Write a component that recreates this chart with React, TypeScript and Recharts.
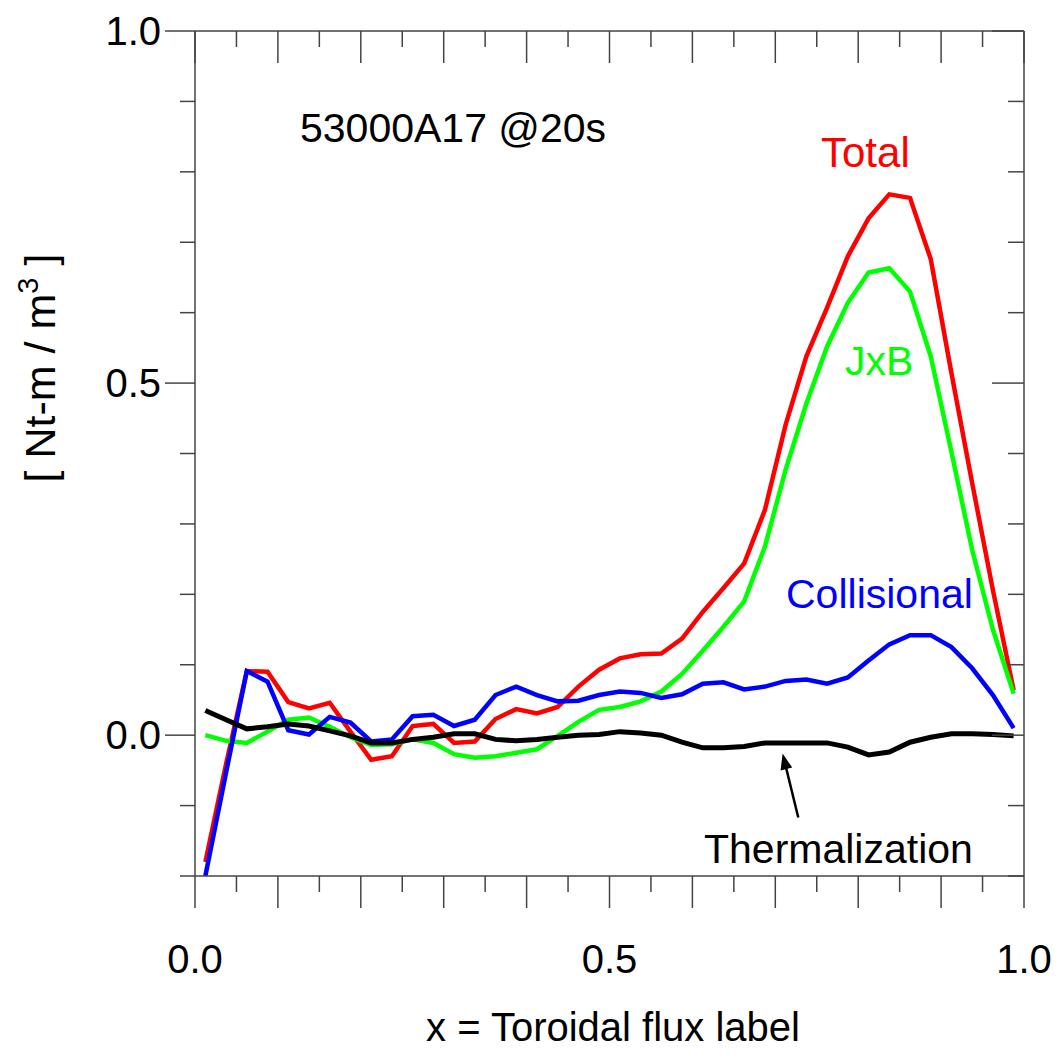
import { LineChart, Line, XAxis, YAxis, ReferenceLine } from 'recharts';

// radial grid positions (toroidal flux label)
const xPos = [
  0.0125, 0.0375, 0.0625, 0.0875, 0.1125, 0.1375, 0.1625, 0.1875, 0.2125, 0.2375,
  0.2625, 0.2875, 0.3125, 0.3375, 0.3625, 0.3875, 0.4125, 0.4375, 0.4625, 0.4875,
  0.5125, 0.5375, 0.5625, 0.5875, 0.6125, 0.6375, 0.6625, 0.6875, 0.7125, 0.7375,
  0.7625, 0.7875, 0.8125, 0.8375, 0.8625, 0.8875, 0.9125, 0.9375, 0.9625, 0.9875,
];

const total = [
  -0.18, -0.041, 0.091, 0.09, 0.047, 0.038, 0.046, 0.005, -0.035, -0.03,
  0.013, 0.016, -0.011, -0.009, 0.023, 0.037, 0.031, 0.04, 0.069, 0.093,
  0.109, 0.115, 0.116, 0.137, 0.175, 0.209, 0.244, 0.32, 0.441, 0.538,
  0.607, 0.68, 0.734, 0.768, 0.763, 0.676, 0.514, 0.358, 0.206, 0.064,
];

const jxb = [
  0.0, -0.008, -0.011, 0.005, 0.022, 0.025, 0.012, -0.003, -0.014, -0.013,
  -0.006, -0.011, -0.027, -0.032, -0.03, -0.025, -0.02, -0.001, 0.019, 0.036,
  0.04, 0.048, 0.062, 0.087, 0.12, 0.154, 0.19, 0.268, 0.377, 0.471,
  0.552, 0.614, 0.657, 0.663, 0.63, 0.538, 0.402, 0.263, 0.15, 0.059,
];

const collisional = [
  -0.2, -0.053, 0.091, 0.076, 0.007, 0.001, 0.026, 0.018, -0.009, -0.006,
  0.027, 0.029, 0.013, 0.022, 0.057, 0.069, 0.057, 0.048, 0.049, 0.057,
  0.062, 0.06, 0.053, 0.058, 0.073, 0.075, 0.065, 0.069, 0.077, 0.079,
  0.073, 0.082, 0.106, 0.129, 0.142, 0.142, 0.125, 0.095, 0.057, 0.01,
];

const thermalization = [
  0.035, 0.022, 0.009, 0.012, 0.016, 0.013, 0.006, -0.001, -0.011, -0.011,
  -0.006, -0.003, 0.002, 0.002, -0.006, -0.008, -0.006, -0.003, 0.0, 0.001,
  0.005, 0.003, 0.0, -0.01, -0.018, -0.018, -0.016, -0.011, -0.011, -0.011,
  -0.011, -0.017, -0.028, -0.024, -0.01, -0.003, 0.002, 0.002, 0.001, -0.001,
];

const xTicks = [
  0, 0.05, 0.1, 0.15, 0.2, 0.25, 0.3, 0.35, 0.4, 0.45, 0.5,
  0.55, 0.6, 0.65, 0.7, 0.75, 0.8, 0.85, 0.9, 0.95, 1,
];
const yTicks = [-0.2, -0.1, 0, 0.1, 0.2, 0.3, 0.4, 0.5, 0.6, 0.7, 0.8, 0.9, 1];
const labelledTicks = [0, 0.5, 1];

// arrow pointing at the thermalization curve (data coords)
const arrowTail = { x: 0.7277, y: -0.117 };
const arrowTip = { x: 0.7088, y: -0.026 };

const data = xPos.map((x, i) => ({
  x,
  total: total[i],
  jxb: jxb[i],
  collisional: collisional[i],
  thermalization: thermalization[i],
}));

const FONT = '"Liberation Sans", Arial, Helvetica, sans-serif';
const AXIS = '#444';
const LW = 4.5;

const isMajorX = (v: number) => Math.round(v * 20) % 2 === 0;
const isMajorY = (v: number) => labelledTicks.includes(v);

function BottomTick(props: any) {
  const { x, y, payload } = props;
  const v = payload.value;
  return (
    <g>
      <line x1={x} x2={x} y1={y} y2={y + (isMajorX(v) ? 32 : 16)} stroke={AXIS} strokeWidth={1.5} />
      {labelledTicks.includes(v) && (
        <text x={x} y={y + 97} textAnchor="middle" fontSize={40} fontFamily={FONT} fill="#000">
          {v.toFixed(1)}
        </text>
      )}
    </g>
  );
}

function TopTick(props: any) {
  const { x, y, payload } = props;
  return <line x1={x} x2={x} y1={y} y2={y + (isMajorX(payload.value) ? 32 : 16)} stroke={AXIS} strokeWidth={1.5} />;
}

function LeftTick(props: any) {
  const { x, y, payload } = props;
  const v = payload.value;
  const major = isMajorY(v);
  return (
    <g>
      <line x1={x - (major ? 30 : 15)} x2={x} y1={y} y2={y} stroke={AXIS} strokeWidth={1.5} />
      {major && (
        <text x={x - 34} y={y + 14} textAnchor="end" fontSize={40} fontFamily={FONT} fill="#000">
          {v.toFixed(1)}
        </text>
      )}
    </g>
  );
}

function RightTick(props: any) {
  const { x, y, payload } = props;
  return <line x1={x - (isMajorY(payload.value) ? 32 : 16)} x2={x} y1={y} y2={y} stroke={AXIS} strokeWidth={1.5} />;
}

function Arrow(props: any) {
  const { x1, y1, x2, y2 } = props;
  const len = Math.hypot(x2 - x1, y2 - y1) || 1;
  const dx = (x2 - x1) / len;
  const dy = (y2 - y1) / len;
  const hl = 16;
  const hw = 6;
  const bx = x2 - dx * hl;
  const by = y2 - dy * hl;
  return (
    <g>
      <line x1={x1} y1={y1} x2={bx + dx * 4} y2={by + dy * 4} stroke="#000" strokeWidth={2.5} />
      <polygon
        points={`${x2},${y2} ${bx - dy * hw},${by + dx * hw} ${bx + dy * hw},${by - dx * hw}`}
        fill="#000"
      />
    </g>
  );
}

export default function App() {
  return (
    <div style={{ position: 'absolute', left: 0, top: 0, width: 1063, height: 1053, background: '#fff' }}>
      <LineChart width={1063} height={1053} data={data} margin={{ top: 0, right: 0, bottom: 0, left: 0 }}>
        <XAxis
          xAxisId="bottom"
          dataKey="x"
          type="number"
          domain={[0, 1]}
          ticks={xTicks}
          interval={0}
          height={177}
          tickSize={0}
          tickMargin={0}
          tickLine={false}
          axisLine={{ stroke: AXIS, strokeWidth: 1.5 }}
          tick={BottomTick}
        />
        <XAxis
          xAxisId="top"
          orientation="top"
          dataKey="x"
          type="number"
          domain={[0, 1]}
          ticks={xTicks}
          interval={0}
          height={31}
          tickSize={0}
          tickMargin={0}
          tickLine={false}
          axisLine={{ stroke: AXIS, strokeWidth: 1.5 }}
          tick={TopTick}
        />
        <YAxis
          yAxisId="left"
          type="number"
          domain={[-0.2, 1]}
          ticks={yTicks}
          interval={0}
          width={195}
          tickSize={0}
          tickMargin={0}
          tickLine={false}
          allowDataOverflow
          axisLine={{ stroke: AXIS, strokeWidth: 1.5 }}
          tick={LeftTick}
        />
        <YAxis
          yAxisId="right"
          orientation="right"
          type="number"
          domain={[-0.2, 1]}
          ticks={yTicks}
          interval={0}
          width={39}
          tickSize={0}
          tickMargin={0}
          tickLine={false}
          allowDataOverflow
          axisLine={{ stroke: AXIS, strokeWidth: 1.5 }}
          tick={RightTick}
        />
        <Line xAxisId="bottom" yAxisId="left" type="linear" dataKey="total" stroke="#ff0000" strokeWidth={LW} dot={false} isAnimationActive={false} />
        <Line xAxisId="bottom" yAxisId="left" type="linear" dataKey="jxb" stroke="#00ff00" strokeWidth={LW} dot={false} isAnimationActive={false} />
        <Line xAxisId="bottom" yAxisId="left" type="linear" dataKey="collisional" stroke="#0000ff" strokeWidth={LW} dot={false} isAnimationActive={false} />
        <Line xAxisId="top" yAxisId="right" type="linear" dataKey="thermalization" stroke="#000" strokeWidth={LW + 0.5} dot={false} isAnimationActive={false} />
        <ReferenceLine
          xAxisId="bottom"
          yAxisId="left"
          segment={[arrowTail, arrowTip]}
          ifOverflow="visible"
          shape={Arrow}
        />
      </LineChart>
      <svg
        width={1063}
        height={1053}
        style={{ position: 'absolute', left: 0, top: 0, pointerEvents: 'none' }}
        fontFamily={FONT}
      >
        <text x={300} y={142} fontSize={41} fill="#000">53000A17 @20s</text>
        <text x={821} y={167} fontSize={42} fill="#ff0000">Total</text>
        <text x={845} y={375} fontSize={41} fill="#00ff00">JxB</text>
        <text x={786} y={608} fontSize={41} fill="#0000ff">Collisional</text>
        <text x={704} y={863} fontSize={41} fill="#000">Thermalization</text>
        <text x={613} y={1041} fontSize={40} textAnchor="middle" fill="#000">x = Toroidal flux label</text>
        <text transform="translate(55,368) rotate(-90)" fontSize={43} textAnchor="middle" fill="#000">
          [ Nt-m / m<tspan fontSize={29} dy={-17}>3</tspan>
          <tspan dy={17}> ]</tspan>
        </text>
      </svg>
    </div>
  );
}
